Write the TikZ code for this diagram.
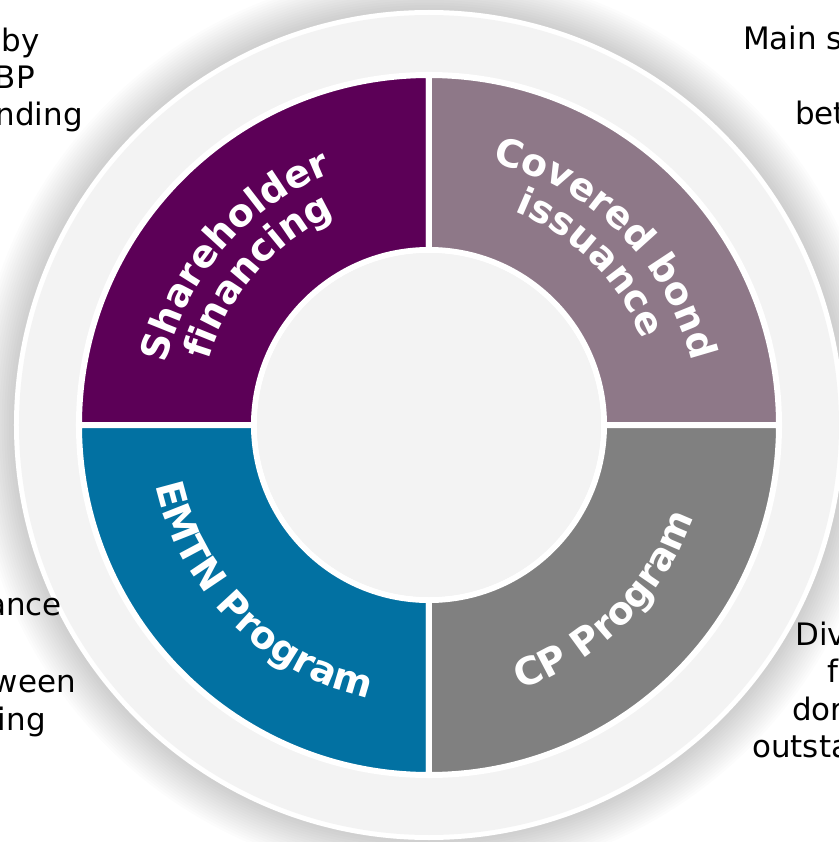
\documentclass[tikz,border=0pt]{standalone}
\usepackage{fontspec}
\setmainfont{DejaVu Sans}
\usepackage{tikz}
\usetikzlibrary{decorations.text}

\definecolor{holder}{HTML}{5C0057}
\definecolor{covered}{HTML}{8E7888}
\definecolor{emtn}{HTML}{0271A2}
\definecolor{cpgray}{HTML}{808080}
\definecolor{ringgray}{HTML}{F3F3F3}

\tikzset{
  note/.style={inner sep=0pt, text=black, font=\fontsize{22}{26}\selectfont},
  bendtext/.style={decorate, decoration={text along path, text align=center,
      text color=white, text={|\fontsize{27}{32}\selectfont\bfseries|#1}}}
}

\begin{document}
\begin{tikzpicture}[scale=.025]
  \def\outerdisk{(0,0) circle (415)}
  \def\innerdisk{(0,0) circle (172)}
  \useasboundingbox (-429,-417) rectangle (410,425);
  % soft shadow round the big disk
  \foreach \s in {1,...,16}
    \fill[black, opacity=.011] (0,0) circle (415+2.5*\s);
  \fill[white] \outerdisk;
  \fill[ringgray] (0,0) circle (410);
  % the four quarters
  \foreach \a/\c in {90/holder, 0/covered, 180/emtn, 270/cpgray}
    \filldraw[fill=\c, draw=white, line width=.15cm]
      (\a:175) -- (\a:350) arc[start angle=\a, end angle=\a+90, radius=350]
      -- (\a+90:175) arc[start angle=\a+90, end angle=\a, radius=175] -- cycle;
  \fill[ringgray] \innerdisk;
  % labels on the ring
  \path[bendtext={Shareholder}] (189:270) arc[start angle=189, end angle=89, radius=270];
  \path[bendtext={financing}] (189:230) arc[start angle=189, end angle=89, radius=230];
  \path[bendtext={Covered bond}] (95:270) arc[start angle=95, end angle=-5, radius=270];
  \path[bendtext={issuance}] (95:230) arc[start angle=95, end angle=-5, radius=230];
  \path[bendtext={EMTN Program}] (175:280) arc[start angle=175, end angle=275, radius=280];
  \path[bendtext={CP Program}] (265:280) arc[start angle=265, end angle=365, radius=280];
  % cut-off notes at the edges
  \node[note, anchor=base east] (tlby) at (-389,373) {by};
  \node[note, anchor=base east] (tlbp) at (-394,336) {BP};
  \node[note, anchor=base east] (tlnd) at (-346,299) {nding};
  \node[note, anchor=base west] (trmain) at (314,375) {Main s};
  \node[note, anchor=base west] (trbet) at (366,300) {bet};
  \node[note, anchor=base east] (blance) at (-367,-190) {ance};
  \node[note, anchor=base east] (blween) at (-353,-267) {ween};
  \node[note, anchor=base east] (bling) at (-383,-305) {ing};
  \node[note, anchor=base west] (brdiv) at (366,-220) {Div};
  \node[note, anchor=base west] (brf) at (398,-257) {f};
  \node[note, anchor=base west] (brdor) at (363,-295) {dor};
  \node[note, anchor=base west] (brout) at (323,-332) {outsta};
\end{tikzpicture}
\end{document}
